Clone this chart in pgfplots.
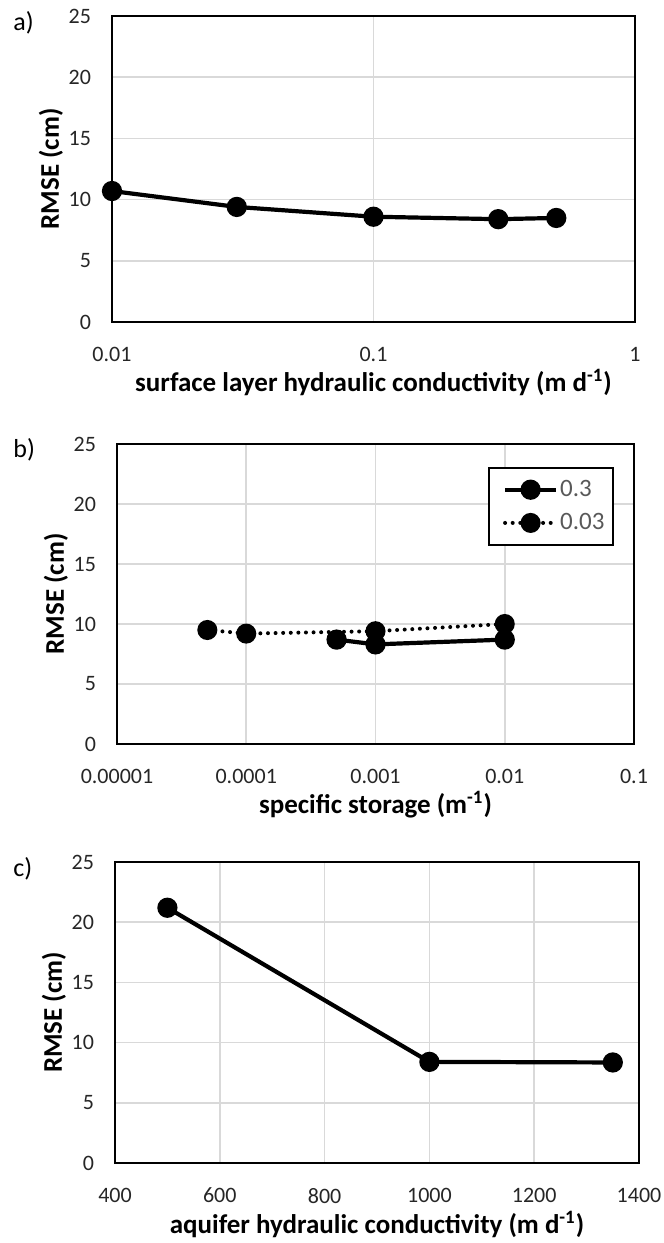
\documentclass[border=0pt]{standalone}
\usepackage{pgfplots}
\pgfplotsset{compat=1.18}
\usepackage{fontspec}
\setmainfont{Carlito}
\begin{document}
\begin{tikzpicture}
\useasboundingbox (0,0) rectangle (332pt,621.5pt);
\pgfplotsset{
  panel/.style={
    scale only axis,
    anchor=south west,
    ymin=0, ymax=25, ytick={0,5,...,25},
    grid=major,
    major grid style={draw=black!15, line width=0.8pt},
    axis line style={black, line width=1pt},
    major tick length=0pt, minor tick length=0pt,
    tick label style={font=\fontsize{11}{13}\selectfont, text=black!85},
    /pgf/number format/assume math mode=true,
    /pgf/number format/1000 sep={},
    xticklabel style={yshift=-9pt},
    yticklabel style={xshift=-7pt},
    ylabel={\textbf{RMSE (cm)}},
    ylabel style={font=\fontsize{13.5}{15}\selectfont, yshift=-4pt},
    xlabel style={font=\fontsize{13.5}{15}\selectfont, yshift=3pt},
    cycle list={{black, solid, line width=2.1pt, mark=*, mark size=4pt, mark options={solid}},
                {black, line width=2pt, line cap=round, dash pattern=on 0pt off 3.8pt, mark=*, mark size=4pt, mark options={solid}}},
  }
}
% panel a
\begin{axis}[panel,
  at={(56pt,460.5pt)}, width=261.5pt, height=153pt,
  xmode=log, xmin=0.01, xmax=1,
  xtick={0.01,0.1,1}, xticklabels={0.01,0.1,1},
  minor xtick={},
  xlabel={\textbf{surface layer hydraulic conductivity (m d\textsuperscript{-1})}},
]
\addplot coordinates {(0.01,10.7) (0.03,9.4) (0.1,8.6) (0.3,8.4) (0.5,8.5)};
\end{axis}
% panel b
\begin{axis}[panel,
  at={(58.5pt,249.5pt)}, width=258.5pt, height=150pt,
  xmode=log, xmin=0.00001, xmax=0.1,
  xtick={0.00001,0.0001,0.001,0.01,0.1}, xticklabels={0.00001,0.0001,0.001,0.01,0.1},
  minor xtick={},
  xlabel={\textbf{specific storage (m\textsuperscript{-1})}},
  legend style={at={(rel axis cs:0.7176,0.923)}, anchor=north west,
    draw=black, line width=1pt, fill=white,
    font=\fontsize{12.5}{15}\selectfont, text=black!65,
    row sep=3pt, inner xsep=3pt, inner ysep=4pt,
    nodes={inner xsep=1pt}},
  legend cell align=left,
  legend image code/.code={\path (0pt,0pt); \draw[#1] (4pt,0pt) -- (29.5pt,0pt); \draw[#1, solid, mark repeat=1] plot coordinates {(16.75pt,0pt)};},
]
\addplot coordinates {(0.0005,8.7) (0.001,8.3) (0.01,8.7)};
\addlegendentry{0.3\hspace{1.5pt}}
\addplot coordinates {(0.00005,9.5) (0.0001,9.2) (0.001,9.4) (0.01,10.0)};
\addlegendentry{0.03\hspace{1.5pt}}
\end{axis}
% panel c
\begin{axis}[panel,
  at={(57.5pt,40pt)}, width=262pt, height=150.5pt,
  xmin=400, xmax=1400, xtick={400,600,...,1400},
  xlabel={\textbf{aquifer hydraulic conductivity (m d\textsuperscript{-1})}},
]
\addplot coordinates {(500,21.2) (1000,8.4) (1350,8.35)};
\end{axis}
\node[font=\fontsize{13}{15}\selectfont, anchor=west, inner sep=0pt] at (6.5pt,610pt) {a)};
\node[font=\fontsize{13}{15}\selectfont, anchor=west, inner sep=0pt] at (6.5pt,396.5pt) {b)};
\node[font=\fontsize{13}{15}\selectfont, anchor=west, inner sep=0pt] at (6.5pt,187pt) {c)};
\end{tikzpicture}
\end{document}
